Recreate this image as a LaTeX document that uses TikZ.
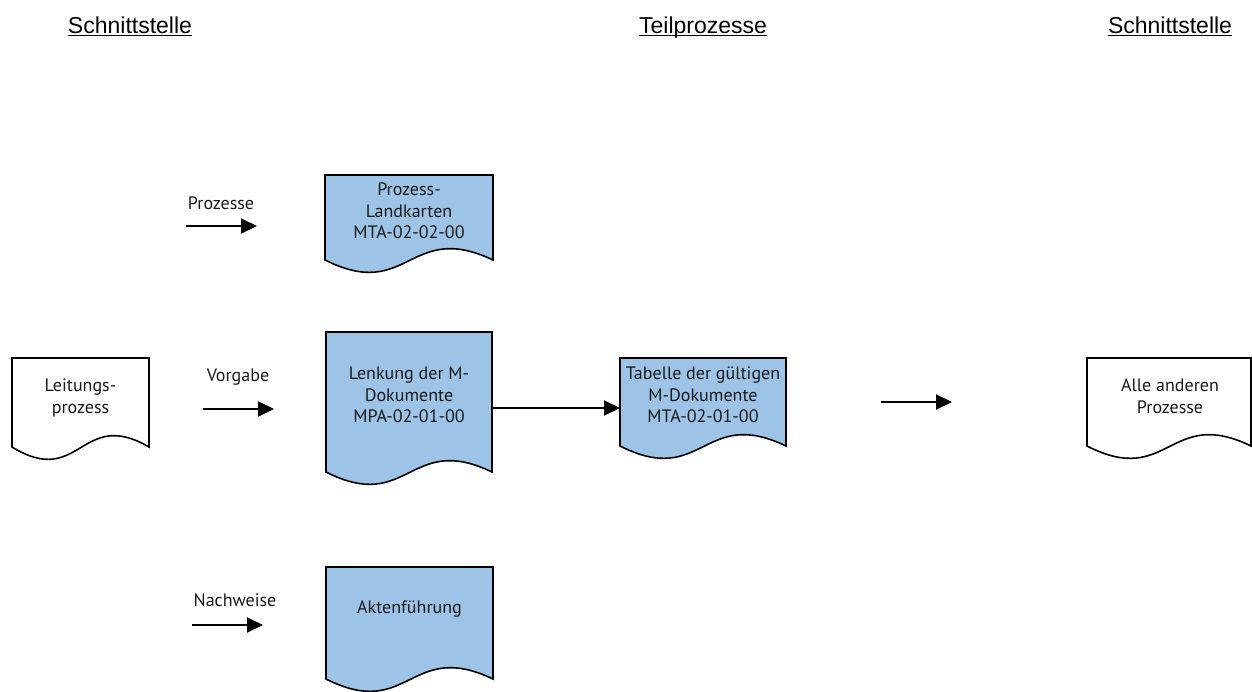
\documentclass[tikz,border=0pt]{standalone}
\usepackage{fontspec}
\setmainfont{PT Sans}
\newfontfamily\headfont{Liberation Sans}
\usetikzlibrary{arrows.meta,calc}
\definecolor{docblue}{HTML}{9DC3E6}
\newcommand\mydocshape[2]{\path[docline,fill=#2] (#1.north west) -- (#1.north east) -- (#1.south east) .. controls ($(#1.south)+(0,-40)$) and ($(#1.south)+(0,42)$) .. (#1.south west) -- cycle;}
\begin{document}
\begin{tikzpicture}[x=1pt,y=-1pt,
  docbox/.style={rectangle,inner sep=0pt,outer sep=0pt,draw=none},
  docline/.style={draw=black,line width=1.6pt,line join=miter},
  txt/.style={font=\fontsize{18}{21.5}\selectfont,align=center,inner sep=0pt,text=black!90},
  lbl/.style={font=\fontsize{18}{21.5}\selectfont,inner sep=0pt,anchor=base,text=black!90},
  head/.style={font=\headfont\fontsize{23}{27}\selectfont,inner sep=0pt,anchor=base},
  uline/.style={line width=1.5pt},
  arr/.style={line width=2pt,-{Triangle[length=16pt,width=15pt]}},
]
\useasboundingbox (0,0) rectangle (1252,691);

% headings
\node[head] (h1) at (130,33) {Schnittstelle};
\node[head] (h2) at (703,33) {Teilprozesse};
\node[head] (h3) at (1170,33) {Schnittstelle};
\foreach \h in {h1,h2,h3}
  \draw[uline] ([yshift=-2.5pt]\h.base west) -- ([yshift=-2.5pt]\h.base east);

% document boxes
\node[docbox,minimum width=168pt,minimum height=85pt] (lk) at (409,217.5) {};
\node[docbox,minimum width=166pt,minimum height=140pt] (lenk) at (409,402) {};
\node[docbox,minimum width=167pt,minimum height=112pt] (akt) at (409.5,623) {};
\node[docbox,minimum width=166pt,minimum height=88pt] (tab) at (703,402) {};
\node[docbox,minimum width=137pt,minimum height=89pt] (leit) at (80.5,402.5) {};
\node[docbox,minimum width=164pt,minimum height=88pt] (alle) at (1169,402) {};

\mydocshape{lk}{docblue}
\mydocshape{lenk}{docblue}
\mydocshape{akt}{docblue}
\mydocshape{tab}{docblue}
\mydocshape{leit}{white}
\mydocshape{alle}{white}

% texts
\node[txt] (lk-t) at (409,211) {Prozess-\\Landkarten\\MTA-02-02-00};
\node[txt] (lenk-t) at (409,395) {Lenkung der M-\\Dokumente\\MPA-02-01-00};
\node[lbl] (akt-t) at (409.5,613) {Aktenführung};
\node[txt] (tab-t) at (703,395) {Tabelle der gültigen\\M-Dokumente\\MTA-02-01-00};
\node[txt] (leit-t) at (80.5,398) {Leitungs-\\prozess};
\node[txt] (alle-t) at (1170,396) {Alle anderen\\Prozesse};

% arrow labels
\node[lbl] (l1) at (221,209) {Prozesse};
\node[lbl] (l2) at (238,381) {Vorgabe};
\node[lbl] (l3) at (235,606) {Nachweise};

% free arrows
\coordinate (a1s) at (186,226); \coordinate (a1e) at (257,226);
\coordinate (a2s) at (203,409); \coordinate (a2e) at (274,409);
\coordinate (a3s) at (192,625); \coordinate (a3e) at (263,625);
\coordinate (a5s) at (881,402); \coordinate (a5e) at (952,402);
\draw[arr] (a1s) -- (a1e);
\draw[arr] (a2s) -- (a2e);
\draw[arr] (a3s) -- (a3e);
\draw[arr] (a5s) -- (a5e);
\draw[arr] ([yshift=-6pt]lenk.east) -- ([yshift=-6pt]tab.west);
\end{tikzpicture}
\end{document}
